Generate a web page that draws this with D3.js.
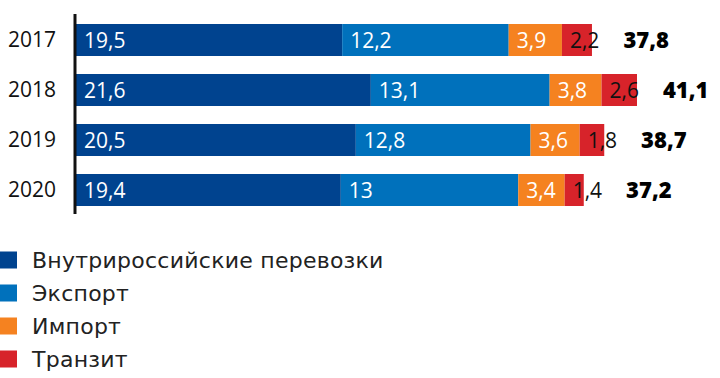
<!DOCTYPE html>
<html><head><meta charset="utf-8">
<script src="https://cdn.jsdelivr.net/npm/d3@7"></script>
<style>body{margin:0;background:#fff}svg{display:block}</style>
</head><body>
<svg id="c" width="720" height="378"></svg>
<script>
const years = ["2017","2018","2019","2020"];
const seriesNames = ["Внутрироссийские перевозки","Экспорт","Импорт","Транзит"];
const domestic = [19.5, 21.6, 20.5, 19.4];
const exportV  = [12.2, 13.1, 12.8, 13];
const importV  = [3.9, 3.8, 3.6, 3.4];
const transit  = [2.2, 2.6, 1.8, 1.4];
const totals   = [37.8, 41.1, 38.7, 37.2];
const colors = ["#00438F","#0071BC","#F58220","#D7232A"];
const textColors = ["#fff","#fff","#fff","#111"];

const font = "Open Sans, sans-serif";
const svg = d3.select("#c");
const rows = years.map((y,i)=>({year:y, d:domestic[i], e:exportV[i], im:importV[i], t:transit[i], total:totals[i]}));
const keys = ["d","e","im","t"];
const stack = d3.stack().keys(keys)(rows);

const x = d3.scaleLinear().domain([0, 41.1]).range([76, 637]);
const y = d3.scaleBand().domain(years).range([15, 215]).paddingInner(0.36).paddingOuter(0.18);

const fmt = v => String(v).replace(".", ",");

stack.forEach((layer, k) => {
  const g = svg.append("g");
  g.selectAll("rect").data(layer).join("rect")
    .attr("x", d => x(d[0])).attr("width", d => x(d[1]) - x(d[0]))
    .attr("y", d => y(d.data.year)).attr("height", y.bandwidth())
    .attr("fill", colors[k]);
});
const labelEnds = {};
stack.forEach((layer, k) => {
  svg.append("g").selectAll("text").data(layer).join("text")
    .attr("x", d => x(d[0]) + 8)
    .attr("y", d => y(d.data.year) + y.bandwidth()/2)
    .attr("dy", "0.36em")
    .attr("fill", textColors[k])
    .attr("font-family", font).attr("font-size", 21)
    .text(d => fmt(d.data[keys[k]]))
    .each(function(d){ if (k === keys.length-1) labelEnds[d.data.year] = x(d[0]) + 8 + this.getComputedTextLength(); });
});

// totals
svg.append("g").selectAll("text").data(rows).join("text")
  .attr("x", d => labelEnds[d.year] + 24)
  .attr("y", d => y(d.year) + y.bandwidth()/2)
  .attr("dy", "0.36em")
  .attr("font-family", font).attr("font-size", 22).attr("font-weight", 800)
  .attr("fill", "#000")
  .text(d => fmt(d.total));

// axis
const axis = d3.axisLeft(y).tickSize(0).tickPadding(19);
const ag = svg.append("g").attr("transform", "translate(75,0)").call(axis);
ag.select(".domain").attr("stroke", "#111").attr("stroke-width", 3).attr("d", "M0,14V214");
ag.selectAll("text").attr("font-family", font).attr("font-size", 21).attr("fill", "#111");

// legend
const lg = svg.append("g");
const ly = d3.scalePoint().domain(seriesNames).range([260, 359]);
seriesNames.forEach((n, i) => {
  lg.append("rect").attr("x", 0).attr("y", ly(n) - 8.5).attr("width", 17).attr("height", 17).attr("fill", colors[i]);
  lg.append("text").attr("x", 32).attr("y", ly(n)).attr("dy", "0.36em")
    .attr("font-family", "DejaVu Sans, sans-serif").attr("font-size", 22)
    .attr("letter-spacing", 0.25).attr("fill", "#222").text(n);
});
</script>
</body></html>
